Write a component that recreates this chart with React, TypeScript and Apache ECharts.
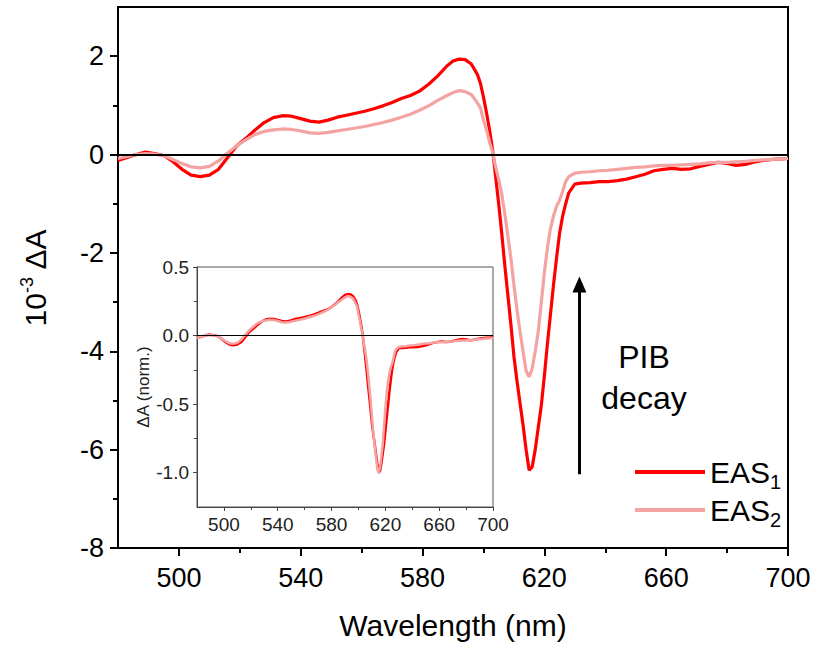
import React, { useEffect, useRef } from "react";
import * as echarts from "echarts";

// Wavelength (nm)
const wavelengths = [
  480, 483, 486, 489, 492, 495, 498, 501, 504, 507,
  510, 513, 516, 519, 522, 525, 528, 531, 534, 537,
  540, 543, 546, 549, 552, 555, 558, 561, 564, 567,
  570, 573, 576, 579, 582, 585, 588, 590, 592, 594,
  596, 598, 599, 600, 601, 602, 603, 604, 605, 606,
  607, 608, 609, 610, 611, 612, 613, 614, 615, 616,
  617, 618, 619, 620, 621, 622, 623, 624, 625, 626,
  627, 628, 630, 632, 635, 638, 641, 644, 647, 650,
  653, 656, 659, 662, 665, 668, 671, 674, 677, 680,
  683, 686, 689, 692, 695, 698, 700,
];

// 10^-3 ΔA, EAS1
const eas1 = [
  -0.12, -0.06, 0.0, 0.05, 0.02, -0.02, -0.14, -0.3, -0.42, -0.45,
  -0.42, -0.3, -0.06, 0.18, 0.33, 0.5, 0.65, 0.75, 0.79, 0.78,
  0.73, 0.68, 0.66, 0.7, 0.76, 0.8, 0.84, 0.88, 0.93, 0.99,
  1.06, 1.14, 1.2, 1.29, 1.43, 1.6, 1.8, 1.9, 1.94, 1.93,
  1.84, 1.63, 1.45, 1.17, 0.85, 0.5, 0.1, -0.45, -1.0, -1.6,
  -2.25, -2.85, -3.45, -4.1, -4.6, -5.05, -5.5, -6.0, -6.42, -6.35,
  -6.0, -5.55, -5.1, -4.5, -3.85, -3.25, -2.65, -2.1, -1.6, -1.25,
  -1.0, -0.78, -0.6, -0.58, -0.57, -0.55, -0.55, -0.53, -0.5, -0.45,
  -0.4, -0.33, -0.3, -0.28, -0.3, -0.29, -0.24, -0.2, -0.16, -0.18,
  -0.22, -0.2, -0.15, -0.12, -0.1, -0.09, -0.08,
];

// 10^-3 ΔA, EAS2
const eas2 = [
  -0.08, -0.04, 0.0, 0.02, 0.01, -0.02, -0.1, -0.18, -0.25, -0.27,
  -0.24, -0.13, 0.03, 0.18, 0.3, 0.41, 0.47, 0.5, 0.52, 0.51,
  0.48, 0.44, 0.43, 0.45, 0.48, 0.51, 0.54, 0.57, 0.61, 0.65,
  0.7, 0.76, 0.82, 0.9, 0.99, 1.1, 1.2, 1.26, 1.3, 1.28,
  1.22, 1.05, 0.95, 0.7, 0.5, 0.25, 0.05, -0.25, -0.5, -0.8,
  -1.2, -1.65, -2.1, -2.65, -3.15, -3.6, -4.0, -4.4, -4.52, -4.35,
  -4.0, -3.6, -3.0, -2.4, -1.9, -1.5, -1.25, -1.05, -0.93, -0.75,
  -0.55, -0.45, -0.38, -0.36, -0.35, -0.33, -0.32, -0.3, -0.28, -0.26,
  -0.25, -0.23, -0.22, -0.22, -0.21, -0.2, -0.19, -0.17, -0.16, -0.16,
  -0.15, -0.14, -0.12, -0.11, -0.1, -0.09, -0.08,
];

const mainXTicks = [500, 540, 580, 620, 660, 700];
const mainXMinor = [520, 560, 600, 640, 680];
const mainYTicks = [2, 0, -2, -4, -6, -8];
const mainYMinor = [1, -1, -3, -5, -7];
const insetXTicks = [500, 540, 580, 620, 660, 700];
const insetXMinor = [520, 560, 600, 640, 680];
const insetYTicks = [0.5, 0, -0.5, -1.0];
const insetYMinor = [0.25, -0.25, -0.75];

const FONT = "Liberation Sans, Arial, sans-serif";

const zip = (xs: number[], ys: number[]) => xs.map((x, i) => [x, ys[i]]);
const normalize = (ys: number[]) => {
  const m = Math.abs(Math.min(...ys));
  return ys.map((v) => v / m);
};

export default function App() {
  const ref = useRef<HTMLDivElement>(null);

  useEffect(() => {
    if (!ref.current) return;
    const chart = echarts.init(ref.current, undefined, { renderer: "svg" });

    const majorAxisCommon = (color: string, width: number) => ({
      axisLine: { show: true, onZero: false, lineStyle: { color, width } },
      splitLine: { show: false },
    });

    const option: any = {
      animation: false,
      backgroundColor: "#fff",
      grid: [
        { left: 118, top: 7, width: 670, height: 541, show: true, borderColor: "#000", borderWidth: 2 },
        { left: 197, top: 267, width: 296, height: 240, show: true, borderColor: "#555", borderWidth: 1, backgroundColor: "#fff" },
      ],
      xAxis: [
        {
          type: "value", gridIndex: 0, min: 480, max: 700, position: "bottom",
          ...majorAxisCommon("#000", 2),
          axisTick: { show: true, length: 8, lineStyle: { color: "#000", width: 2 }, customValues: mainXTicks },
          axisLabel: { customValues: mainXTicks, fontSize: 27, color: "#000", margin: 16, fontFamily: FONT },
          name: "Wavelength (nm)", nameLocation: "middle", nameGap: 62,
          nameTextStyle: { fontSize: 30, color: "#000", fontFamily: FONT },
        },
        {
          type: "value", gridIndex: 0, min: 480, max: 700, position: "bottom",
          axisLine: { show: false, onZero: false },
          splitLine: { show: false },
          axisTick: { show: true, length: 5, lineStyle: { color: "#000", width: 2 }, customValues: mainXMinor },
          axisLabel: { show: false },
        },
        {
          type: "value", gridIndex: 1, min: 480, max: 700, position: "bottom",
          ...majorAxisCommon("#444", 1),
          axisTick: { show: true, length: 4, lineStyle: { color: "#444", width: 1 }, customValues: insetXTicks },
          axisLabel: { customValues: insetXTicks, fontSize: 19, color: "#222", margin: 8, fontFamily: FONT },
        },
        {
          type: "value", gridIndex: 1, min: 480, max: 700, position: "bottom",
          axisLine: { show: false, onZero: false },
          splitLine: { show: false },
          axisTick: { show: true, length: 3, lineStyle: { color: "#444", width: 1 }, customValues: insetXMinor },
          axisLabel: { show: false },
        },
      ],
      yAxis: [
        {
          type: "value", gridIndex: 0, min: -8, max: 3, position: "left",
          ...majorAxisCommon("#000", 2),
          axisTick: { show: true, length: 8, lineStyle: { color: "#000", width: 2 }, customValues: mainYTicks },
          axisLabel: { customValues: mainYTicks, fontSize: 27, color: "#000", margin: 14, fontFamily: FONT },
          name: "{a|10}{b|-3}{a| ΔA}", nameLocation: "middle", nameGap: 66,
          nameTextStyle: {
            color: "#000", fontFamily: FONT,
            rich: {
              a: { fontSize: 30, lineHeight: 34, color: "#000", fontFamily: FONT },
              b: { fontSize: 18, lineHeight: 18, verticalAlign: "top", color: "#000", fontFamily: FONT },
            },
          },
        },
        {
          type: "value", gridIndex: 0, min: -8, max: 3, position: "left",
          axisLine: { show: false, onZero: false },
          splitLine: { show: false },
          axisTick: { show: true, length: 5, lineStyle: { color: "#000", width: 2 }, customValues: mainYMinor },
          axisLabel: { show: false },
        },
        {
          type: "value", gridIndex: 1, min: -1.25, max: 0.5, position: "left",
          ...majorAxisCommon("#444", 1),
          axisTick: { show: true, length: 4, lineStyle: { color: "#444", width: 1 }, customValues: insetYTicks },
          axisLabel: {
            customValues: insetYTicks, fontSize: 19, color: "#222", margin: 8, fontFamily: FONT,
            formatter: (v: number) => v.toFixed(1),
          },
          name: "ΔA (norm.)", nameLocation: "middle", nameGap: 42,
          nameTextStyle: { fontSize: 17, color: "#222", fontFamily: FONT },
        },
        {
          type: "value", gridIndex: 1, min: -1.25, max: 0.5, position: "left",
          axisLine: { show: false, onZero: false },
          splitLine: { show: false },
          axisTick: { show: true, length: 3, lineStyle: { color: "#444", width: 1 }, customValues: insetYMinor },
          axisLabel: { show: false },
        },
      ],
      legend: {
        data: ["EAS1", "EAS2"],
        orient: "vertical",
        left: 630,
        top: 452,
        itemWidth: 70,
        itemHeight: 4,
        itemGap: 3,
        icon: "rect",
        formatter: (name: string) => (name === "EAS1" ? "{a|EAS}{s|1}" : "{a|EAS}{s|2}"),
        textStyle: {
          color: "#000",
          fontFamily: FONT,
          rich: {
            a: { fontSize: 30, lineHeight: 40, color: "#000", fontFamily: FONT },
            s: { fontSize: 20, lineHeight: 18, verticalAlign: "bottom", color: "#000", fontFamily: FONT },
          },
        },
      },
      graphic: [
        {
          type: "text",
          x: 644,
          y: 377,
          style: {
            text: "PIB\ndecay",
            fontSize: 32,
            lineHeight: 41,
            fontFamily: FONT,
            fill: "#000",
            align: "center",
            verticalAlign: "middle",
          },
        },
      ],
      series: [
        {
          name: "EAS1", type: "line", xAxisIndex: 0, yAxisIndex: 0,
          data: zip(wavelengths, eas1), symbol: "none", color: "#ff0000",
          lineStyle: { color: "#ff0000", width: 3.2 },
          markLine: {
            silent: true, symbol: ["none", "none"], label: { show: false },
            lineStyle: { color: "#000", width: 2, type: "solid" },
            data: [{ yAxis: 0 }],
          },
        },
        {
          name: "EAS2", type: "line", xAxisIndex: 0, yAxisIndex: 0,
          data: zip(wavelengths, eas2), symbol: "none", color: "#f4a3a3",
          lineStyle: { color: "#f4a3a3", width: 3.2 },
          markLine: {
            silent: true, symbol: ["none", "triangle"], symbolSize: [14, 16], label: { show: false },
            lineStyle: { color: "#000", width: 3, type: "solid" },
            itemStyle: { color: "#000" },
            data: [[{ coord: [631.5, -6.5] }, { coord: [631.5, -2.64] }]],
          },
        },
        {
          name: "EAS1 (norm.)", type: "line", xAxisIndex: 2, yAxisIndex: 2,
          data: zip(wavelengths, normalize(eas1)), symbol: "none", color: "#ff0000",
          lineStyle: { color: "#ff0000", width: 2.5 },
          markLine: {
            silent: true, symbol: ["none", "none"], label: { show: false },
            lineStyle: { color: "#000", width: 1, type: "solid" },
            data: [{ yAxis: 0 }],
          },
        },
        {
          name: "EAS2 (norm.)", type: "line", xAxisIndex: 2, yAxisIndex: 2,
          data: zip(wavelengths, normalize(eas2)), symbol: "none", color: "#f4a3a3",
          lineStyle: { color: "#f4a3a3", width: 2.5 },
        },
      ],
    };

    chart.setOption(option);
    return () => chart.dispose();
  }, []);

  return (
    <div
      ref={ref}
      style={{ position: "fixed", left: 0, top: 0, width: 816, height: 648, background: "#fff" }}
    />
  );
}
